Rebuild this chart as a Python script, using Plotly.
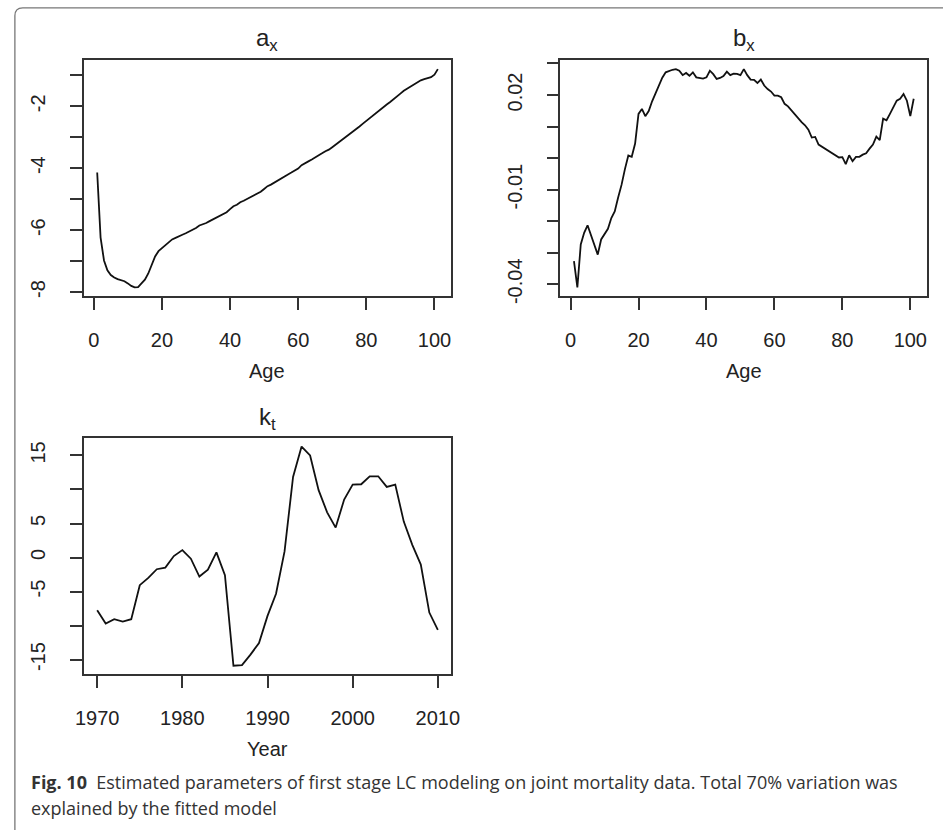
import plotly.graph_objects as go

# ---------------- data ----------------
age = list(range(1, 102))
a_x = [-4.14, -6.24, -6.98, -7.30, -7.45, -7.53, -7.58, -7.62, -7.65, -7.72,
       -7.80, -7.85, -7.84, -7.72, -7.60, -7.40, -7.12, -6.85, -6.68, -6.58,
       -6.50, -6.38, -6.30, -6.25, -6.19, -6.15, -6.10, -6.05, -6.00, -5.93,
       -5.85, -5.82, -5.77, -5.71, -5.65, -5.59, -5.53, -5.48, -5.42, -5.32,
       -5.23, -5.18, -5.10, -5.05, -4.99, -4.94, -4.87, -4.83, -4.76, -4.67,
       -4.58, -4.53, -4.46, -4.40, -4.33, -4.26, -4.20, -4.14, -4.07, -4.01,
       -3.90, -3.85, -3.78, -3.72, -3.66, -3.59, -3.52, -3.45, -3.40, -3.32,
       -3.24, -3.16, -3.08, -3.00, -2.92, -2.83, -2.74, -2.65, -2.56, -2.47,
       -2.37, -2.27, -2.19, -2.10, -2.02, -1.94, -1.86, -1.78, -1.69, -1.59,
       -1.50, -1.43, -1.36, -1.30, -1.23, -1.16, -1.12, -1.08, -1.06, -0.98,
       -0.80]
b_x = [-0.0327, -0.0410, -0.0274, -0.0237, -0.0213, -0.0245, -0.0280, -0.0306, -0.0258, -0.0240,
       -0.0224, -0.0190, -0.0169, -0.0125, -0.0085, -0.0035, 0.0008, 0.0004, 0.0046, 0.0140,
       0.0156, 0.0133, 0.0149, 0.0180, 0.0205, 0.0230, 0.0255, 0.0272, 0.0277, 0.0280,
       0.0282, 0.0277, 0.0263, 0.0270, 0.0261, 0.0272, 0.0256, 0.0254, 0.0252, 0.0256,
       0.0277, 0.0266, 0.0251, 0.0254, 0.0260, 0.0274, 0.0263, 0.0268, 0.0267, 0.0263,
       0.0282, 0.0263, 0.0249, 0.0248, 0.0238, 0.0249, 0.0230, 0.0219, 0.0211, 0.0198,
       0.0198, 0.0193, 0.0172, 0.0164, 0.0151, 0.0137, 0.0127, 0.0114, 0.0104, 0.0090,
       0.0065, 0.0067, 0.0043, 0.0036, 0.0030, 0.0022, 0.0014, 0.0009, 0.0002, 0.0003,
       -0.0019, 0.0009, -0.0010, 0.0004, 0.0004, 0.0011, 0.0015, 0.0030, 0.0043, 0.0068,
       0.0057, 0.0125, 0.0120, 0.0140, 0.0161, 0.0182, 0.0188, 0.0203, 0.0182, 0.0133,
       0.0188]
years = list(range(1970, 2011))
k_t = [-7.75, -9.70, -9.06, -9.40, -9.06, -4.06, -2.99, -1.72, -1.48, 0.22,
       1.10, -0.17, -2.79, -1.77, 0.76, -2.60, -15.90, -15.80, -14.27, -12.56,
       -8.58, -5.32, 0.90, 11.84, 16.31, 15.00, 9.90, 6.64, 4.40, 8.53,
       10.72, 10.77, 11.94, 11.94, 10.38, 10.72, 5.28, 1.87, -1.04, -8.09,
       -10.62]

age_ticks = [0, 20, 40, 60, 80, 100]
year_ticks = [1970, 1980, 1990, 2000, 2010]
# labelled ticks and unlabelled (minor) ticks, as R drops overlapping labels
a_ticks = [-8, -6, -4, -2]
a_minor = [-7, -5, -3, -1]
b_ticks = [-0.04, -0.01, 0.02]
b_minor = [-0.03, -0.02, 0.0, 0.01, 0.03]
k_ticks = [-15, -5, 0, 5, 15]
k_minor = [-10, 10]

caption_bold = "Fig. 10"
caption_1 = "Estimated parameters of first stage LC modeling on joint mortality data. Total 70% variation was"
caption_2 = "explained by the fitted model"

# ---------------- layout helpers ----------------
W, H = 952, 838
def fx(px):
    return px / W
def fy(py):
    return 1 - py / H

def rrange(vals):
    lo, hi = min(vals), max(vals)
    d = (hi - lo) * 0.04
    return [lo - d, hi + d]

FONT = "Liberation Sans, Arial, sans-serif"
LINE = dict(color="#111111", width=1.8)

fig = go.Figure()
fig.add_trace(go.Scatter(x=age, y=a_x, mode="lines", line=LINE, xaxis="x", yaxis="y", showlegend=False))
fig.add_trace(go.Scatter(x=age, y=b_x, mode="lines", line=LINE, xaxis="x2", yaxis="y2", showlegend=False))
fig.add_trace(go.Scatter(x=years, y=k_t, mode="lines", line=LINE, xaxis="x3", yaxis="y3", showlegend=False))

def ax(domain, rng, tickvals, minor=None, anchor=None, ylab=False):
    d = dict(domain=domain, range=rng, showline=True, mirror=True, linecolor="#333333",
             linewidth=1.5, ticks="outside", ticklen=12, tickwidth=1.5, tickcolor="#333333",
             showgrid=False, zeroline=False, tickmode="array", tickvals=tickvals,
             ticktext=[("%g" % v) for v in tickvals],
             tickfont=dict(family=FONT, size=20, color="#222222"), anchor=anchor)
    if minor is not None:
        d["minor"] = dict(tickmode="array", tickvals=minor, ticks="outside", ticklen=12,
                          tickwidth=1.5, tickcolor="#333333", showgrid=False)
    if ylab:
        d["tickangle"] = -90
        d["ticklabelstandoff"] = 17
    else:
        d["ticklabelstandoff"] = 13
    return d

fig.update_layout(
    width=W, height=H,
    margin=dict(l=0, r=0, t=0, b=0),
    paper_bgcolor="white", plot_bgcolor="white",
    xaxis=ax([fx(76), fx(451)], rrange(age), age_ticks, anchor="y"),
    yaxis=ax([fy(299), fy(61)], rrange(a_x), a_ticks, a_minor, anchor="x", ylab=True),
    xaxis2=ax([fx(562), fx(936)], rrange(age), age_ticks, anchor="y2"),
    yaxis2=ax([fy(299), fy(61)], rrange(b_x), b_ticks, b_minor, anchor="x2", ylab=True),
    xaxis3=ax([fx(76), fx(451)], rrange(years), year_ticks, anchor="y3"),
    yaxis3=ax([fy(681), fy(442)], rrange(k_t), k_ticks, k_minor, anchor="x3", ylab=True),
)

def txt(text, px, py, size, xanchor="center", yanchor="middle", color="#222222", family=FONT):
    fig.add_annotation(text=text, x=fx(px), y=fy(py), xref="paper", yref="paper",
                       showarrow=False, xanchor=xanchor, yanchor=yanchor,
                       font=dict(family=family, size=size, color=color))

# subplot titles
txt("a<sub>x</sub>", 263, 40, 24)
txt("b<sub>x</sub>", 749, 40, 24)
txt("k<sub>t</sub>", 263, 423, 24)
# axis titles
txt("Age", 263, 375, 20)
txt("Age", 749, 375, 20)
txt("Year", 263, 756, 20)
# caption
CAP = "Open Sans, Noto Sans, sans-serif"
txt("<b>" + caption_bold + "</b>  " + caption_1, 20, 790, 18, xanchor="left", color="#333333", family=CAP)
txt(caption_2, 20, 816, 18, xanchor="left", color="#333333", family=CAP)

# figure frame with rounded top-left corner
path = "M {a},{b} L {c},{b} Q {d},{b} {d},{e} L {d},{f}".format(
    a=fx(952), b=fy(8), c=fx(14), d=fx(6), e=fy(16), f=fy(838))
fig.add_shape(type="path", path=path, xref="paper", yref="paper",
              line=dict(color="#777777", width=1.3))

fig.write_html("out.html")
